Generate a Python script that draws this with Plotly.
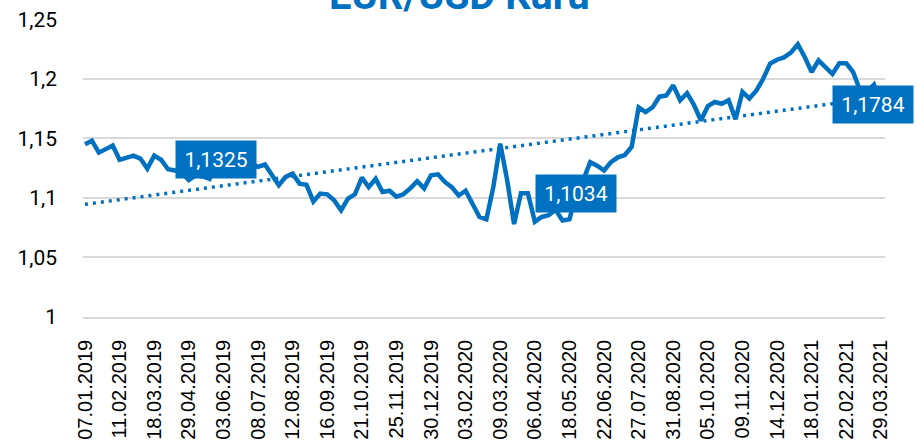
import plotly.graph_objects as go
import numpy as np

# weekly EUR/USD closing values (116 points)
kur = [
    1.145, 1.148, 1.138, 1.141, 1.144, 1.132, 1.1335, 1.1355, 1.133, 1.1246,
    1.1355, 1.132, 1.124, 1.123, 1.121, 1.115, 1.119, 1.118, 1.116, 1.1325,
    1.128, 1.125, 1.127, 1.130, 1.129, 1.126, 1.128, 1.119, 1.1106, 1.1176,
    1.1204, 1.112, 1.111, 1.097, 1.1036, 1.103, 1.098, 1.0896, 1.0994, 1.103,
    1.117, 1.109, 1.116, 1.105, 1.106, 1.101, 1.103, 1.108, 1.114, 1.108,
    1.119, 1.1198, 1.1134, 1.109, 1.102, 1.106, 1.095, 1.084, 1.082, 1.109,
    1.1456, 1.115, 1.078, 1.104, 1.104, 1.080, 1.084, 1.0854, 1.090, 1.081,
    1.082, 1.1034, 1.115, 1.130, 1.127, 1.123, 1.130, 1.134, 1.136, 1.143,
    1.176, 1.172, 1.176, 1.185, 1.186, 1.1945, 1.182, 1.188, 1.178, 1.165,
    1.177, 1.1805, 1.179, 1.182, 1.166, 1.189, 1.1834, 1.190, 1.200, 1.2128,
    1.216, 1.218, 1.222, 1.229, 1.2183, 1.2057, 1.2155, 1.2094, 1.204, 1.213,
    1.213, 1.2057, 1.190, 1.189, 1.195, 1.1784,
]

tarih_etiket = [
    "07.01.2019", "11.02.2019", "18.03.2019", "29.04.2019", "03.06.2019",
    "08.07.2019", "12.08.2019", "16.09.2019", "21.10.2019", "25.11.2019",
    "30.12.2019", "03.02.2020", "09.03.2020", "06.04.2020", "18.05.2020",
    "22.06.2020", "27.07.2020", "31.08.2020", "05.10.2020", "09.11.2020",
    "14.12.2020", "18.01.2021", "22.02.2021", "29.03.2021",
]

y_ticks = [1, 1.05, 1.1, 1.15, 1.2, 1.25]

etiket_idx = [19, 71, 115]

MAVI = "#0070C0"

x = np.arange(len(kur))
y = np.array(kur)

# linear trend, like the Excel trendline
egim, kesen = np.polyfit(x, y, 1)
trend = egim * x + kesen

fig = go.Figure()
fig.add_trace(go.Scatter(x=x, y=trend, mode='lines',
                         line=dict(color=MAVI, width=3.5, dash="3px,5px"),
                         hoverinfo='skip'))
fig.add_trace(go.Scatter(x=x, y=y, mode='lines',
                         line=dict(color=MAVI, width=4.5)))

for i in etiket_idx:
    fig.add_annotation(
        x=i, y=kur[i], xref='x', yref='y',
        text="{:.4f}".format(kur[i]).replace('.', ','),
        showarrow=False, bgcolor=MAVI, width=76, height=33, borderpad=2,
        font=dict(family="Roboto", size=21, color="white"),
        xshift=-8 if i == len(kur) - 1 else 0,
    )

fig.add_annotation(
    x=0.47, y=1.0, xref='paper', yref='paper', yshift=24,
    text="<b>EUR/USD Kuru</b>", showarrow=False, yanchor='middle',
    font=dict(family="Roboto", size=40, color=MAVI),
)

fig.update_layout(
    width=917, height=442,
    margin=dict(l=83, r=32, t=19, b=125),
    paper_bgcolor="white", plot_bgcolor="white",
    showlegend=False,
    separators=",.",
    xaxis=dict(
        range=[-0.29, 115.6],
        automargin=False,
        tickmode='array',
        tickvals=list(range(0, len(kur), 5)),
        ticktext=tarih_etiket,
        tickangle=-90,
        showgrid=False, zeroline=False,
        showline=True, linecolor="#D9D9D9", linewidth=1.5,
        ticklabelstandoff=13,
        tickfont=dict(family="Liberation Sans", size=20, color="black"),
    ),
    yaxis=dict(
        range=[1, 1.2502],
        automargin=False,
        tickmode='array', tickvals=y_ticks,
        showgrid=True, gridcolor="#D9D9D9", gridwidth=1.5,
        zeroline=False,
        ticklabelstandoff=25,
        tickfont=dict(family="Roboto", size=21, color="black"),
    ),
)

# drop the default body margin so the chart sits at the page corner
fig.write_html("out.html", config={'displayModeBar': False},
               post_script="document.body.style.margin='0';")
